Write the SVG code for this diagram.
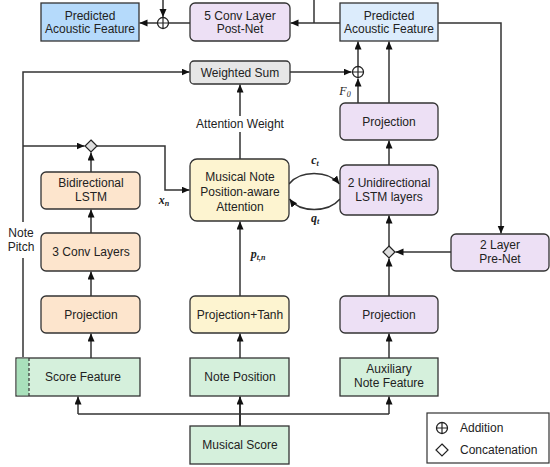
<svg xmlns="http://www.w3.org/2000/svg" width="550" height="467" viewBox="0 0 550 467">
<style>
text{font-family:"Liberation Sans",Arial,sans-serif;font-size:12px;fill:#222;text-anchor:middle}
.m{font-family:"Liberation Serif","Times New Roman",serif;font-style:italic;font-weight:bold;font-size:12px}
.b{stroke:#333;stroke-width:1.3}
.ln{fill:none;stroke:#333;stroke-width:1.5}
.ar{marker-end:url(#ah)}
.or{fill:#fde5cd}.ye{fill:#fdf4d0}.la{fill:#ede0f5}.gr{fill:#d5f0dc}.gy{fill:#e6e6e6}
.lg{text-anchor:start}
</style>
<defs>
<marker id="ah" markerUnits="userSpaceOnUse" markerWidth="9" markerHeight="8" refX="8" refY="3.5" orient="auto"><path d="M0,0 L8,3.5 L0,7 z" fill="#111"/></marker>
</defs>
<g id="connectors">
<path class="ln" d="M314,0 V23"/>
<path class="ln ar" d="M163,0 V17"/>
<path class="ln ar" d="M157.5,23 H139.5"/>
<path class="ln" d="M190,23 H168.5"/>
<path class="ln ar" d="M340,23 H290.5"/>
<path class="ln ar" d="M438,23 H501 V233.5"/>
<path class="ln ar" d="M23,357 V258 M23,222 V72 H189.5"/>
<path class="ln ar" d="M290,72 H351.5"/>
<path class="ln ar" d="M358,103 V78.5"/>
<path class="ln ar" d="M358,66.5 V41.5"/>
<path class="ln ar" d="M389,103 V41.5"/>
<path class="ln ar" d="M240,159 V132 M240,116 V84.5"/>
<path class="ln ar" d="M389,165 V140.5"/>
<path class="ln ar" d="M289,184 C300,170 328,170 339.5,184"/>
<path class="ln ar" d="M340,199 C328,213 300,213 289.5,199"/>
<path class="ln ar" d="M389,246 V215.5"/>
<path class="ln ar" d="M451,252 H395.5"/>
<path class="ln ar" d="M389,296 V258.5"/>
<path class="ln ar" d="M389,358 V333.5"/>
<path class="ln ar" d="M91,172 V152.5"/>
<path class="ln ar" d="M23,146 H84.5"/>
<path class="ln ar" d="M97,146 H165 V190 H189.5"/>
<path class="ln ar" d="M91,233 V209.5"/>
<path class="ln ar" d="M91,296 V271.5"/>
<path class="ln ar" d="M91,358 V333.5"/>
<path class="ln ar" d="M240,296 V221.5"/>
<path class="ln ar" d="M240,358 V333.5"/>
<path class="ln ar" d="M240,426 V396.5" style="stroke-width:2"/>
<path class="ln ar" d="M78,414 V396.5"/>
<path class="ln ar" d="M389,414 V396.5"/>
<path class="ln" d="M78,414 H389"/>
</g>
<g id="plus1"><circle cx="163" cy="23" r="5.5" fill="#fff" stroke="#222" stroke-width="1.3"/><path d="M157.5,23 H168.5 M163,17.5 V28.5" stroke="#222" stroke-width="1.2"/></g>
<g id="plus2"><circle cx="358" cy="72" r="5.5" fill="#fff" stroke="#222" stroke-width="1.3"/><path d="M352.5,72 H363.5 M358,66.5 V77.5" stroke="#222" stroke-width="1.2"/></g>
<g id="concat1"><path d="M91,140 L97,146 L91,152 L85,146 z" fill="#ddd" stroke="#222" stroke-width="1.2"/></g>
<g id="concat2"><path d="M389,246 L395,252 L389,258 L383,252 z" fill="#ddd" stroke="#222" stroke-width="1.2"/></g>
<g id="pred-left"><rect class="b" x="41" y="3" width="98" height="38" fill="#b5dafb"/><text x="90" y="20">Predicted</text><text x="90" y="33">Acoustic Feature</text></g>
<g id="postnet"><rect class="b la" x="190" y="3" width="100" height="38" rx="5"/><text x="240" y="20">5 Conv Layer</text><text x="240" y="33">Post-Net</text></g>
<g id="pred-right"><rect class="b" x="340" y="3" width="98" height="38" fill="#dcecfc"/><text x="389" y="20">Predicted</text><text x="389" y="33">Acoustic Feature</text></g>
<g id="wsum"><rect class="b gy" x="190" y="61" width="100" height="23" rx="4"/><text x="240" y="77">Weighted Sum</text></g>
<text x="240" y="128">Attention Weight</text>
<text class="m" x="345" y="95" style="font-weight:normal">F<tspan font-size="8" dy="2">0</tspan></text>
<g id="proj-r1"><rect class="b la" x="340" y="103" width="98" height="37" rx="5"/><text x="389" y="126">Projection</text></g>
<g id="attention"><rect class="b ye" x="190" y="159" width="99" height="62" rx="7"/><text x="240" y="181">Musical Note</text><text x="240" y="196">Position-aware</text><text x="240" y="211">Attention</text></g>
<g id="uni-lstm"><rect class="b la" x="340" y="165" width="98" height="50" rx="6"/><text x="389" y="187">2 Unidirectional</text><text x="389" y="201">LSTM layers</text></g>
<text class="m" x="315" y="164">c<tspan font-size="8" dy="2">t</tspan></text>
<text class="m" x="315" y="222">q<tspan font-size="8" dy="2">t</tspan></text>
<text class="m" x="164" y="204">x<tspan font-size="8" dy="2">n</tspan></text>
<text class="m" x="258" y="258">p<tspan font-size="8" dy="2">t,n</tspan></text>
<g id="prenet"><rect class="b la" x="451" y="234" width="98" height="37" rx="5"/><text x="500" y="249">2 Layer</text><text x="500" y="263">Pre-Net</text></g>
<g id="bilstm"><rect class="b or" x="41" y="172" width="99" height="37" rx="5"/><text x="91" y="187">Bidirectional</text><text x="91" y="201">LSTM</text></g>
<g id="conv3"><rect class="b or" x="41" y="233" width="99" height="38" rx="5"/><text x="91" y="256">3 Conv Layers</text></g>
<text x="21" y="237">Note</text><text x="21" y="251">Pitch</text>
<g id="proj-l"><rect class="b or" x="41" y="296" width="99" height="37" rx="5"/><text x="91" y="319">Projection</text></g>
<g id="proj-tanh"><rect class="b ye" x="190" y="296" width="99" height="37" rx="5"/><text x="240" y="319">Projection+Tanh</text></g>
<g id="proj-r2"><rect class="b la" x="340" y="296" width="98" height="37" rx="5"/><text x="389" y="319">Projection</text></g>
<g id="score-feature"><rect class="b gr" x="16" y="358" width="124" height="38"/><rect x="16.7" y="358.7" width="12.3" height="36.6" fill="#a9e0bb"/><path d="M29,358 V396" stroke="#333" stroke-width="1.2" stroke-dasharray="3,2"/><text x="83" y="381">Score Feature</text></g>
<g id="note-position"><rect class="b gr" x="190" y="358" width="99" height="38"/><text x="240" y="381">Note Position</text></g>
<g id="aux-feature"><rect class="b gr" x="340" y="358" width="98" height="38"/><text x="389" y="373">Auxiliary</text><text x="389" y="387">Note Feature</text></g>
<g id="musical-score"><rect class="b gr" x="190" y="426" width="99" height="38"/><text x="240" y="449">Musical Score</text></g>
<g id="legend"><rect x="427" y="413" width="122" height="50" fill="#fff" stroke="#333" stroke-width="1.2"/>
<circle cx="442" cy="428" r="5.5" fill="#fff" stroke="#222" stroke-width="1.3"/><path d="M436.5,428 H447.5 M442,422.5 V433.5" stroke="#222" stroke-width="1.2"/>
<text class="lg" x="460" y="432">Addition</text>
<path d="M442,444 L448,450 L442,456 L436,450 z" fill="#fff" stroke="#222" stroke-width="1.2"/>
<text class="lg" x="460" y="454">Concatenation</text></g>
</svg>
